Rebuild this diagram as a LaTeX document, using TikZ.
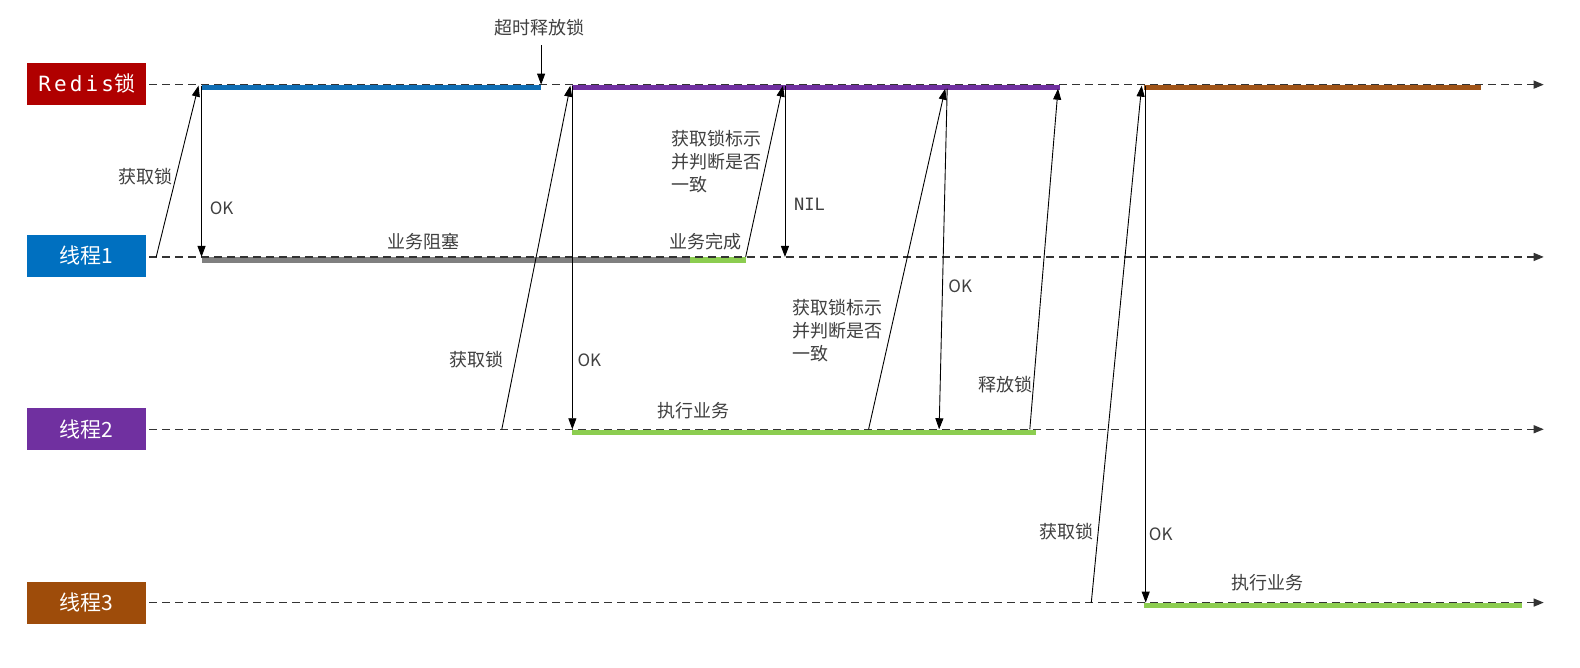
\documentclass[tikz,border=0pt]{standalone}
\usepackage{fontspec}
\setmainfont{Noto Sans CJK SC}
\newfontfamily\monofont{DejaVu Sans Mono}
\newfontfamily\redisfont[LetterSpace=15]{DejaVu Sans Mono}
\usetikzlibrary{arrows.meta}
\definecolor{redisred}{RGB}{176,0,0}
\definecolor{t1blue}{RGB}{0,112,192}
\definecolor{t2purple}{RGB}{112,48,160}
\definecolor{t3brown}{RGB}{158,76,10}
\definecolor{barblue}{RGB}{16,110,180}
\definecolor{barpurple}{RGB}{112,48,160}
\definecolor{barbrown}{RGB}{160,84,24}
\definecolor{bargray}{RGB}{128,128,128}
\definecolor{bargreen}{RGB}{140,205,80}
\definecolor{labelgray}{RGB}{64,64,64}
\tikzset{
  lanebox/.style={minimum width=119pt, minimum height=42pt, inner sep=0pt, text=white,
    font=\fontsize{21}{24}\selectfont},
  lane/.style={draw=black!80, line width=1.1pt, dash pattern=on 8pt off 5pt,
    -{Triangle[length=10pt,width=8pt]}},
  bar/.style={line width=5.5pt},
  msg/.style={draw=black, line width=0.9pt, -{Triangle[length=11pt,width=8pt]}},
  lbl/.style={text=labelgray, inner sep=0pt, font=\fontsize{18}{23}\selectfont},
  oklbl/.style={text=labelgray, inner sep=0pt, font=\fontsize{17}{20}\selectfont},
}
\begin{document}
\begin{tikzpicture}[x=1.0077pt,y=-1.0077pt]
\useasboundingbox (0,0) rectangle (1568,662);
\fill[white] (0,0) rectangle (1568,662);

% lane boxes
\node[lanebox, fill=redisred] (redis) at (86,83) {{\redisfont\fontsize{21}{24}\selectfont Redis}锁};
\node[lanebox, fill=t1blue] (t1) at (86,254) {线程1};
\node[lanebox, fill=t2purple] (t2) at (86,426) {线程2};
\node[lanebox, fill=t3brown] (t3) at (86,598) {线程3};

% lane ends
\coordinate (r0) at (148,84);  \coordinate (r1) at (1532,84);
\coordinate (a0) at (148,255); \coordinate (a1) at (1532,255);
\coordinate (b0) at (148,426); \coordinate (b1) at (1532,426);
\coordinate (c0) at (148,598); \coordinate (c1) at (1532,598);

% bars
\coordinate (rb1s) at (200,87); \coordinate (rb1e) at (537,87);
\coordinate (rb2s) at (568,87); \coordinate (rb2e) at (1052,87);
\coordinate (rb3s) at (1135,87); \coordinate (rb3e) at (1470,87);
\coordinate (ab1s) at (200,258); \coordinate (ab1e) at (685,258);
\coordinate (ab2e) at (740,258);
\coordinate (bb1s) at (568,429); \coordinate (bb1e) at (1028,429);
\coordinate (cb1s) at (1135,601); \coordinate (cb1e) at (1510,601);

\draw[bar, barblue] (rb1s) -- (rb1e);
\draw[bar, barpurple] (rb2s) -- (rb2e);
\draw[bar, barbrown] (rb3s) -- (rb3e);
\draw[bar, bargray] (ab1s) -- (ab1e);
\draw[bar, bargreen] (ab1e) -- (ab2e);
\draw[bar, bargreen] (bb1s) -- (bb1e);
\draw[bar, bargreen] (cb1s) -- (cb1e);

% lanes
\draw[lane] (r0) -- (r1);
\draw[lane] (a0) -- (a1);
\draw[lane] (b0) -- (b1);
\draw[lane] (c0) -- (c1);

% message points
\coordinate (m1a) at (155,255);  \coordinate (m1b) at (197,85);
\coordinate (m2a) at (200,85);   \coordinate (m2b) at (200,255);
\coordinate (m3a) at (537,45);   \coordinate (m3b) at (537,84);
\coordinate (m4a) at (498,426);  \coordinate (m4b) at (566,85);
\coordinate (m5a) at (568,85);   \coordinate (m5b) at (568,426);
\coordinate (m6a) at (740,255);  \coordinate (m6b) at (777,85);
\coordinate (m7a) at (779,85);   \coordinate (m7b) at (779,255);
\coordinate (m8a) at (862,426);  \coordinate (m8b) at (938,88);
\coordinate (m9a) at (940,88);   \coordinate (m9b) at (932,426);
\coordinate (m10a) at (1022,426); \coordinate (m10b) at (1050,88);
\coordinate (m11a) at (1083,598); \coordinate (m11b) at (1133,85);
\coordinate (m12a) at (1137,85);  \coordinate (m12b) at (1137,598);

\draw[msg] (m1a) -- (m1b);
\draw[msg] (m2a) -- (m2b);
\draw[msg] (m3a) -- (m3b);
\draw[msg] (m4a) -- (m4b);
\draw[msg] (m5a) -- (m5b);
\draw[msg] (m6a) -- (m6b);
\draw[msg] (m7a) -- (m7b);
\draw[msg] (m8a) -- (m8b);
\draw[msg] (m9a) -- (m9b);
\draw[msg] (m10a) -- (m10b);
\draw[msg] (m11a) -- (m11b);
\draw[msg] (m12a) -- (m12b);

% labels
\node[lbl] (lto) at (535,27) {超时释放锁};
\node[lbl, anchor=east] (l1) at (171,175) {获取锁};
\node[oklbl, anchor=west] (l2) at (208,207) {OK};
\node[lbl] (l3) at (420,240) {业务阻塞};
\node[lbl, anchor=east] (l4) at (500,357) {获取锁};
\node[oklbl, anchor=west] (l5) at (573,358) {OK};
\node[lbl, anchor=north west, align=left] (l6) at (666,129) {获取锁标示\\并判断是否\\一致};
\node[lbl] (l7) at (700,240) {业务完成};
\node[oklbl, anchor=west, font=\monofont\fontsize{17}{20}\selectfont] (l8) at (788,203) {NIL};
\node[lbl] (l9) at (688,408) {执行业务};
\node[lbl, anchor=north west, align=left] (l10) at (786,297) {获取锁标示\\并判断是否\\一致};
\node[oklbl, anchor=west] (l11) at (941,284) {OK};
\node[lbl] (l12) at (998,382) {释放锁};
\node[lbl, anchor=east] (l13) at (1085,528) {获取锁};
\node[oklbl, anchor=west] (l14) at (1140,530) {OK};
\node[lbl] (l15) at (1258,578) {执行业务};
\end{tikzpicture}
\end{document}
